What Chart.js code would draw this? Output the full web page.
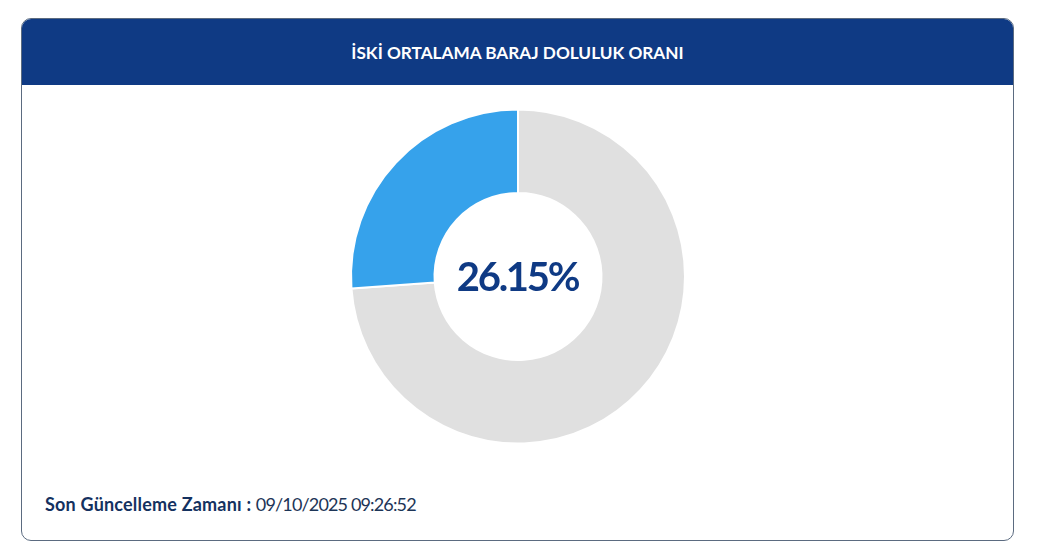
<!DOCTYPE html>
<html lang="tr">
<head>
<meta charset="utf-8">
<title>İSKİ Ortalama Baraj Doluluk Oranı</title>
<script src="https://cdn.jsdelivr.net/npm/chart.js@4"></script>
<style>
  html, body { margin: 0; padding: 0; background: #fff; font-family: Lato, sans-serif; }
  .card { position: absolute; left: 21px; top: 18px; width: 991px; height: 521px; border: 1px solid #5b6b80; border-radius: 10px; overflow: hidden; background: #fff; }
  .card-header { height: 66px; line-height: 68px; background: #0f3a84; color: #fff; text-align: center; font-size: 17.2px; font-weight: 700; }
  .chart-box { position: absolute; left: 1px; top: 67px; width: 990px; height: 381px; }
  .center-text { position: absolute; left: 0; width: 989px; top: 165px; line-height: 50px; text-align: center; font-size: 40px; font-weight: 700; letter-spacing: -2.3px; color: #0f3a84; }
  .updated { position: absolute; left: 23px; top: 474px; font-size: 18px; line-height: 22px; color: #1d3557; }
  .updated b { color: #14315f; letter-spacing: 0.2px; }
  .updated span { letter-spacing: -0.85px; }
</style>
</head>
<body>
<div class="card">
  <div class="card-header">İSKİ ORTALAMA BARAJ DOLULUK ORANI</div>
  <div class="chart-box">
    <canvas id="g1" width="990" height="381"></canvas>
    <div class="center-text" id="centerText"></div>
  </div>
  <div class="updated"><b>Son Güncelleme Zamanı :</b> <span>09/10/2025 09:26:52</span></div>
</div>
<script>
  var labels = ['Boş', 'Dolu'];
  var values = [73.85, 26.15];
  var sliceColors = ['#e0e0e0', '#36a2eb'];

  document.getElementById('centerText').textContent = values[1].toFixed(2) + '%';

  var ctx1 = document.getElementById('g1').getContext('2d');
  var chart1 = new Chart(ctx1, {
    type: 'doughnut',
    data: {
      labels: labels,
      datasets: [{
        data: values,
        backgroundColor: sliceColors,
        borderColor: '#fff',
        borderWidth: 2
      }]
    },
    options: {
      responsive: false,
      animation: false,
      cutout: '50%',
      radius: 167,
      plugins: {
        legend: { display: false },
        tooltip: { enabled: false }
      }
    }
  });
</script>
</body>
</html>
